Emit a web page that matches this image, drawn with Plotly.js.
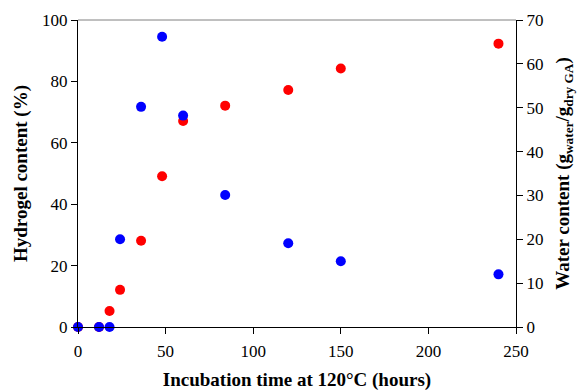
<!DOCTYPE html>
<html>
<head>
<meta charset="utf-8">
<script src="https://cdn.plot.ly/plotly-3.0.1.min.js"></script>
<style>html,body{margin:0;padding:0;background:#fff;}#chart{width:579px;height:391px;}</style>
</head>
<body>
<div id="chart"></div>
<script>
var hydrogelTime = [0, 12, 18, 24, 36, 48, 60, 84, 120, 150, 240];
var hydrogelContent = [0, 0, 5.2, 12.1, 28.1, 49.1, 67.1, 72.1, 77.2, 84.2, 92.3];
var waterTime = [0, 12, 18, 24, 36, 48, 60, 84, 120, 150, 240];
var waterContent = [0, 0, 0, 20.0, 50.2, 66.2, 48.2, 30.1, 19.1, 15.0, 12.0];
var xTicks = [0, 50, 100, 150, 200, 250];
var leftTicks = [0, 20, 40, 60, 80, 100];
var rightTicks = [0, 10, 20, 30, 40, 50, 60, 70];

var fam = 'Liberation Serif';
var traces = [
  {x: hydrogelTime, y: hydrogelContent, type: 'scatter', mode: 'markers', yaxis: 'y',
   marker: {color: '#ff0000', size: 10}, cliponaxis: false, showlegend: false},
  {x: waterTime, y: waterContent, type: 'scatter', mode: 'markers', yaxis: 'y2',
   marker: {color: '#0000ff', size: 10}, cliponaxis: false, showlegend: false}
];
var layout = {
  width: 579, height: 391,
  margin: {l: 78, r: 63, t: 20, b: 64},
  paper_bgcolor: '#fff', plot_bgcolor: '#fff',
  font: {family: fam, size: 17, color: '#000'},
  showlegend: false,
  xaxis: {range: [0, 250], tickvals: xTicks, ticktext: xTicks.map(String),
    showgrid: false, zeroline: false, showline: true, linecolor: '#000', linewidth: 1,
    ticks: 'outside', ticklen: 6, tickcolor: '#000', ticklabelstandoff: 3,
    tickfont: {family: fam, size: 17, color: '#000'},
    title: {text: '<b>Incubation time at 120°C (hours)</b>', font: {family: fam, size: 19, color: '#000'}, standoff: 12}},
  yaxis: {range: [0, 100], tickvals: leftTicks, ticktext: leftTicks.map(String),
    showgrid: false, zeroline: false, showline: true, linecolor: '#000', linewidth: 1,
    ticks: 'outside', ticklen: 6, tickcolor: '#000',
    tickfont: {family: fam, size: 17, color: '#000'},
    title: {text: '<b>Hydrogel content (%)</b>', font: {family: fam, size: 19, color: '#000'}, standoff: 9}},
  yaxis2: {range: [0, 70], overlaying: 'y', side: 'right', tickvals: rightTicks, ticktext: rightTicks.map(String),
    showgrid: false, zeroline: false, showline: true, linecolor: '#000', linewidth: 1,
    ticks: 'outside', ticklen: 6, tickcolor: '#000',
    tickfont: {family: fam, size: 17, color: '#000'},
    title: {text: '<b>Water content (g<sub>water</sub>/g<sub>dry GA</sub>)</b>', font: {family: fam, size: 19, color: '#000'}, standoff: 13}},
  shapes: [{type: 'line', xref: 'paper', yref: 'paper', x0: 0, x1: 1, y0: 1, y1: 1,
    line: {color: '#808080', width: 1}}]
};
Plotly.newPlot('chart', traces, layout, {displayModeBar: false, staticPlot: true});
</script>
</body>
</html>
